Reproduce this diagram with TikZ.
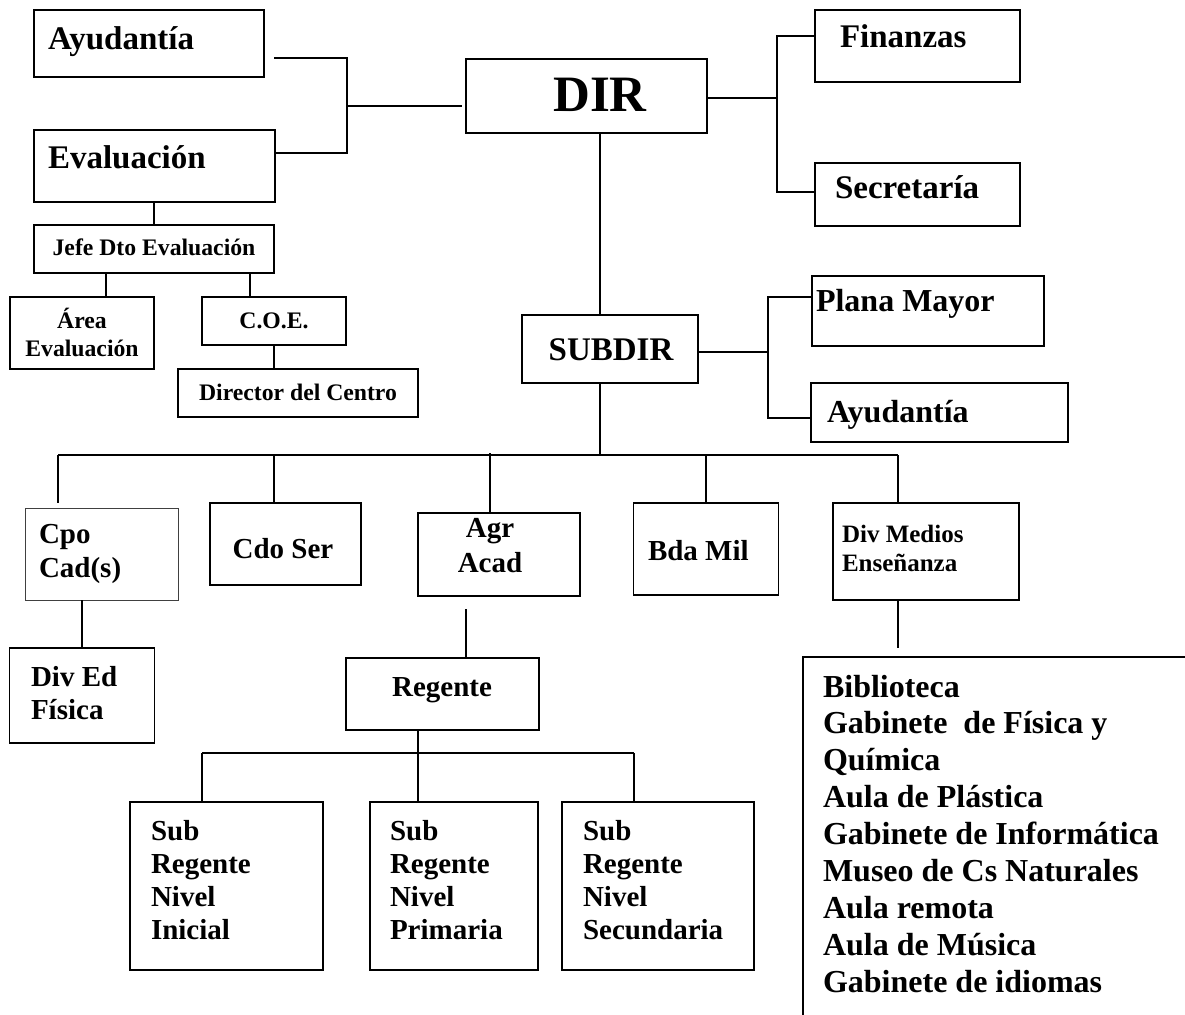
\documentclass[tikz,border=0pt]{standalone}
\usepackage{fontspec}
\setmainfont{Liberation Serif}
\usetikzlibrary{calc}
\newcommand\mlines[2]{\begin{tabular}[t]{@{}#1@{}}#2\end{tabular}}
\begin{document}
\begin{tikzpicture}[x=1pt,y=-1pt,
  bx/.style={draw,line width=1.9pt,inner sep=0pt,outer sep=0pt},
  thinbx/.style={draw=black!75,line width=1pt,inner sep=0pt,outer sep=0pt},
  tx/.style={inner sep=0pt,outer sep=0pt,font=\bfseries},
  ln/.style={line width=1.9pt,line join=miter},
  big/.style={font=\bfseries\fontsize{33}{38}\selectfont},
  mid/.style={font=\bfseries\fontsize{29}{33.3}\selectfont},
  sml/.style={font=\bfseries\fontsize{23.7}{28}\selectfont}]
\fill[white] (0,0) rectangle (1185,1014);
\useasboundingbox (0,0) rectangle (1185,1014);

% boxes
\node[bx,minimum width=230,minimum height=67] (ayu1) at (149,43.5) {};
\node[bx,minimum width=241,minimum height=72] (eval) at (154.5,166) {};
\node[bx,minimum width=240,minimum height=48] (jefe) at (154,249) {};
\node[bx,minimum width=144,minimum height=72] (area) at (82,333) {};
\node[bx,minimum width=144,minimum height=48] (coe) at (274,321) {};
\node[bx,minimum width=240,minimum height=48] (dirc) at (298,393) {};
\node[bx,minimum width=241,minimum height=74] (dir) at (586.5,96) {};
\node[bx,minimum width=205,minimum height=72] (fin) at (917.5,46) {};
\node[bx,minimum width=205,minimum height=63] (sec) at (917.5,194.5) {};
\node[bx,minimum width=176,minimum height=68] (subdir) at (610,349) {};
\node[bx,minimum width=232,minimum height=70] (plana) at (928,311) {};
\node[bx,minimum width=257,minimum height=59] (ayu2) at (939.5,412.5) {};
\node[thinbx,minimum width=153,minimum height=92] (cpo) at (101.5,554) {};
\node[bx,minimum width=151,minimum height=82] (cdo) at (285.5,544) {};
\node[bx,minimum width=162,minimum height=83] (agr) at (499,554.5) {};
\node[bx,minimum width=145,minimum height=92] (bda) at (706,549) {};
\node[bx,minimum width=186,minimum height=97] (divm) at (926,551.5) {};
\node[bx,minimum width=145,minimum height=95] (dived) at (82,695.5) {};
\node[bx,minimum width=193,minimum height=72] (reg) at (442.5,694) {};
\node[bx,minimum width=193,minimum height=168] (subi) at (226.5,886) {};
\node[bx,minimum width=168,minimum height=168] (subp) at (454,886) {};
\node[bx,minimum width=192,minimum height=168] (subs) at (658,886) {};

% texts
\node[tx,big,anchor=base west] (tayu1) at (48,50) {Ayudantía};
\node[tx,big,anchor=base west] (teval) at (48,168) {Evaluación};
\node[tx,sml,anchor=base] (tjefe) at (154,255) {Jefe Dto Evaluación};
\node[tx,sml,anchor=base] (tarea) at (82,328) {\mlines{c}{Área\\Evaluación}};
\node[tx,sml,anchor=base] (tcoe) at (274,328) {C.O.E.};
\node[tx,sml,anchor=base] (tdirc) at (298,400) {Director del Centro};
\node[tx,font=\bfseries\fontsize{51}{56}\selectfont,anchor=base] (tdir) at (600,112) {DIR};
\node[tx,big,anchor=base west] (tfin) at (840,48) {Finanzas};
\node[tx,big,anchor=base west] (tsec) at (835,198) {Secretaría};
\node[tx,big,anchor=base] (tsubdir) at (611,360) {SUBDIR};
\node[tx,font=\bfseries\fontsize{32}{37}\selectfont,anchor=base west] (tplana) at (816,311) {Plana Mayor};
\node[tx,font=\bfseries\fontsize{32}{37}\selectfont,anchor=base west] (tayu2) at (827,422) {Ayudantía};
\node[tx,font=\bfseries\fontsize{29}{34}\selectfont,anchor=base west] (tcpo) at (39,543) {\mlines{l}{Cpo\\Cad(s)}};
\node[tx,mid,anchor=base] (tcdo) at (283,558) {Cdo Ser};
\node[tx,font=\bfseries\fontsize{29}{35}\selectfont,anchor=base] (tagr) at (490,537) {\mlines{c}{Agr\\Acad}};
\node[tx,mid,anchor=base west] (tbda) at (648,560) {Bda Mil};
\node[tx,font=\bfseries\fontsize{25}{29}\selectfont,anchor=base west] (tdivm) at (842,542) {\mlines{l}{Div Medios\\Enseñanza}};
\node[tx,mid,anchor=base west] (tdived) at (31,686) {\mlines{l}{Div Ed\\Física}};
\node[tx,mid,anchor=base] (treg) at (442,696) {Regente};
\node[tx,mid,anchor=base west] (tsubi) at (151,840) {\mlines{l}{Sub\\Regente\\Nivel\\Inicial}};
\node[tx,mid,anchor=base west] (tsubp) at (390,840) {\mlines{l}{Sub\\Regente\\Nivel\\Primaria}};
\node[tx,mid,anchor=base west] (tsubs) at (583,840) {\mlines{l}{Sub\\Regente\\Nivel\\Secundaria}};
\node[tx,font=\bfseries\fontsize{32}{36.9}\selectfont,anchor=base west] (tlist) at (823,697)
  {\mlines{l}{Biblioteca\\Gabinete~ de Física y\\Química\\Aula de Plástica\\Gabinete de Informática\\Museo de Cs Naturales\\Aula remota\\Aula de Música\\Gabinete de idiomas}};

% open list box
\coordinate (lstTL) at (803,657);
\coordinate (lstTR) at (1186,657);
\coordinate (lstBL) at (803,1015);
\draw[ln] (lstTR) -- (lstTL) -- (lstBL);

% left group connectors
\coordinate (fkL) at (347,106);
\coordinate (aL) at ([shift={(10,14.5)}]ayu1.east);
\coordinate (eL) at ([yshift=13pt]eval.east);
\coordinate (dL) at ([shift={(-4,10)}]dir.west);
\draw[ln] (aL) -| (fkL) |- (eL);
\draw[ln] (fkL) -- (dL);
\draw[ln] (eval.south -| jefe.north) -- (jefe.north);
\coordinate (jA) at (106,297);
\coordinate (jC) at (250,297);
\draw[ln] (jA |- jefe.south) -- (jA);
\draw[ln] (jC |- jefe.south) -- (jC);
\draw[ln] (coe.south) -- (coe.south |- dirc.north);

% right of DIR
\coordinate (fkR) at (777,98);
\draw[ln] (dir.east |- fkR) -- (fkR);
\draw[ln] ([yshift=10pt]fin.west) -| (fkR) |- ([yshift=2.5pt]sec.west);

% spine
\coordinate (spine) at (600,455);
\draw[ln] (dir.south -| spine) -- (subdir.north -| spine);
\draw[ln] (subdir.south -| spine) -- (spine);

% right of SUBDIR
\coordinate (fkS) at (768,352);
\draw[ln] (subdir.east |- fkS) -- (fkS);
\draw[ln] ([yshift=14pt]plana.west) -| (fkS) |- ([yshift=-5.5pt]ayu2.west);

% bus
\coordinate (busL) at (58,455);
\coordinate (busR) at (898,455);
\draw[ln] (busL) -- (busR);
\draw[ln] (busL) -- ([yshift=5pt]cpo.north -| busL);
\coordinate (dC) at (274,455);
\draw[ln] (dC) -- (dC |- cdo.north);
\coordinate (dA) at (490,453);
\draw[ln] (dA) -- (dA |- agr.north);
\draw[ln] (bda.north |- busL) -- (bda.north);
\draw[ln] (busR) -- (busR |- divm.north);

% lower connectors
\draw[ln] (dived.north |- cpo.south) -- (dived.north);
\coordinate (aR) at (466,609);
\draw[ln] (aR) -- (aR |- reg.north);
\coordinate (rb) at (418,753);
\coordinate (rbL) at (202,753);
\coordinate (rbR) at (634,753);
\draw[ln] (reg.south -| rb) -- (rb);
\draw[ln] (rbL) -- (rbR);
\draw[ln] (rbL) -- (rbL |- subi.north);
\draw[ln] (rb) -- (rb |- subp.north);
\draw[ln] (rbR) -- (rbR |- subs.north);
\coordinate (lt) at (898,648);
\draw[ln] (lt |- divm.south) -- (lt);
\end{tikzpicture}
\end{document}
